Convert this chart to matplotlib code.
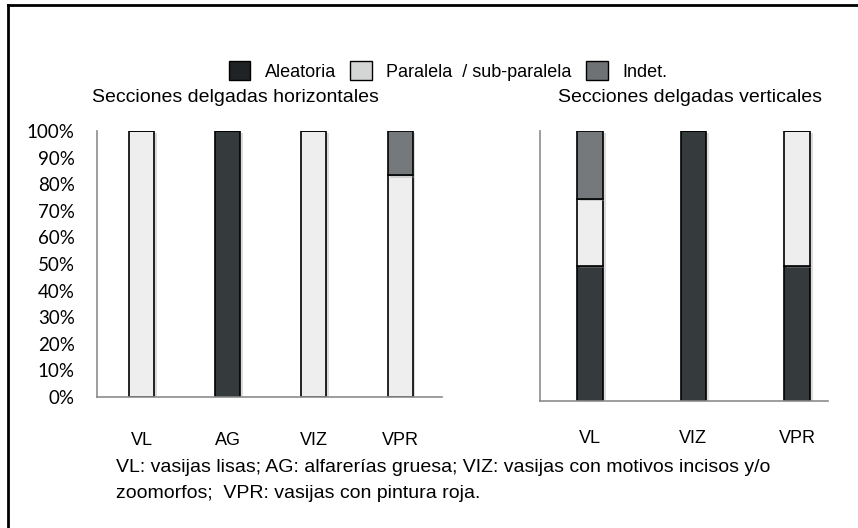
import matplotlib.pyplot as plt
import matplotlib.patheffects as pe
from matplotlib.lines import Line2D
from matplotlib.patches import Patch

# data
cats_h = ["VL", "AG", "VIZ", "VPR"]
aleatoria_h = [0, 100, 0, 0]
paralela_h = [100, 0, 100, 83.3]
indet_h = [0, 0, 0, 16.7]

cats_v = ["VL", "VIZ", "VPR"]
aleatoria_v = [50, 100, 50]
paralela_v = [25, 0, 50]
indet_v = [25, 0, 0]

series_names = ["Aleatoria", "Paralela  / sub-paralela", "Indet."]
bar_colors = ["#353a3d", "#eeeeee", "#76797b"]
legend_colors = ["#1f2326", "#d4d6d5", "#6f7274"]

narrow = ["Liberation Sans", "DejaVu Sans"]
shadow = [pe.SimplePatchShadow(offset=(2, -1.5), shadow_rgbFace="#999999", alpha=0.35), pe.Normal()]

fig = plt.figure(figsize=(8.58, 5.28), dpi=100)

# frame (top and left edges only)
fig.add_artist(Line2D([8 / 858, 1.0], [1 - 5 / 528] * 2, color="black", lw=2))
fig.add_artist(Line2D([8 / 858] * 2, [0.0, 1 - 5 / 528], color="black", lw=2))


def stacked(ax, cats, a, p, i, width):
    x = range(len(cats))
    bottom2 = [u + v for u, v in zip(a, p)]
    for vals, bot, col in [(a, None, bar_colors[0]), (p, a, bar_colors[1]), (i, bottom2, bar_colors[2])]:
        bars = ax.bar(x, vals, width, bottom=bot, color=col, edgecolor="black", linewidth=1.2)
        for b in bars:
            b.set_path_effects(shadow)
    ax.set_xticks(list(x))
    ax.set_xticklabels(cats, family=narrow, fontsize=13)
    ax.set_ylim(0, 100)
    for s in ["top", "right"]:
        ax.spines[s].set_visible(False)
    for s in ["left", "bottom"]:
        ax.spines[s].set_color("#8c8c8c")
        ax.spines[s].set_linewidth(1.2)
    ax.tick_params(length=0)


ax1 = fig.add_axes([97 / 858, 1 - 397 / 528, 345 / 858, 266 / 528])
stacked(ax1, cats_h, aleatoria_h, paralela_h, indet_h, 0.29)
ax1.set_xlim(-0.516, 3.486)
ax1.set_yticks(range(0, 101, 10))
ax1.set_yticklabels([f"{v}%" for v in range(0, 101, 10)], family="Lato", fontsize=13.5)
ax1.tick_params(axis="y", pad=16)
ax1.tick_params(axis="x", pad=25)

ax2 = fig.add_axes([540 / 858, 1 - 401 / 528, 288 / 858, 270 / 528])
stacked(ax2, cats_v, aleatoria_v, paralela_v, indet_v, 0.25)
ax2.set_xlim(-0.483, 2.30)
ax2.set_yticks([])
ax2.tick_params(axis="x", pad=21)

# titles
fig.text(235 / 858, 1 - 98 / 528, "Secciones delgadas horizontales", family=narrow,
         fontsize=14, ha="center", va="center")
fig.text(690 / 858, 1 - 98 / 528, "Secciones delgadas verticales", family=narrow,
         fontsize=14, ha="center", va="center")

# legend
handles = [Patch(facecolor=c, edgecolor="black", linewidth=1) for c in legend_colors]
fig.legend(handles, series_names, loc="center", bbox_to_anchor=(448 / 858, 1 - 71 / 528),
           ncol=3, frameon=False, prop={"family": narrow, "size": 13},
           handlelength=1.2, handleheight=1.2, columnspacing=0.8, handletextpad=0.8)

# footnote
fig.text(116 / 858, 1 - 467 / 528,
         "VL: vasijas lisas; AG: alfarerías gruesa; VIZ: vasijas con motivos incisos y/o",
         family=narrow, fontsize=14, va="center")
fig.text(116 / 858, 1 - 494 / 528, "zoomorfos;  VPR: vasijas con pintura roja.",
         family=narrow, fontsize=14, va="center")

fig.savefig("out.png", dpi=100)
